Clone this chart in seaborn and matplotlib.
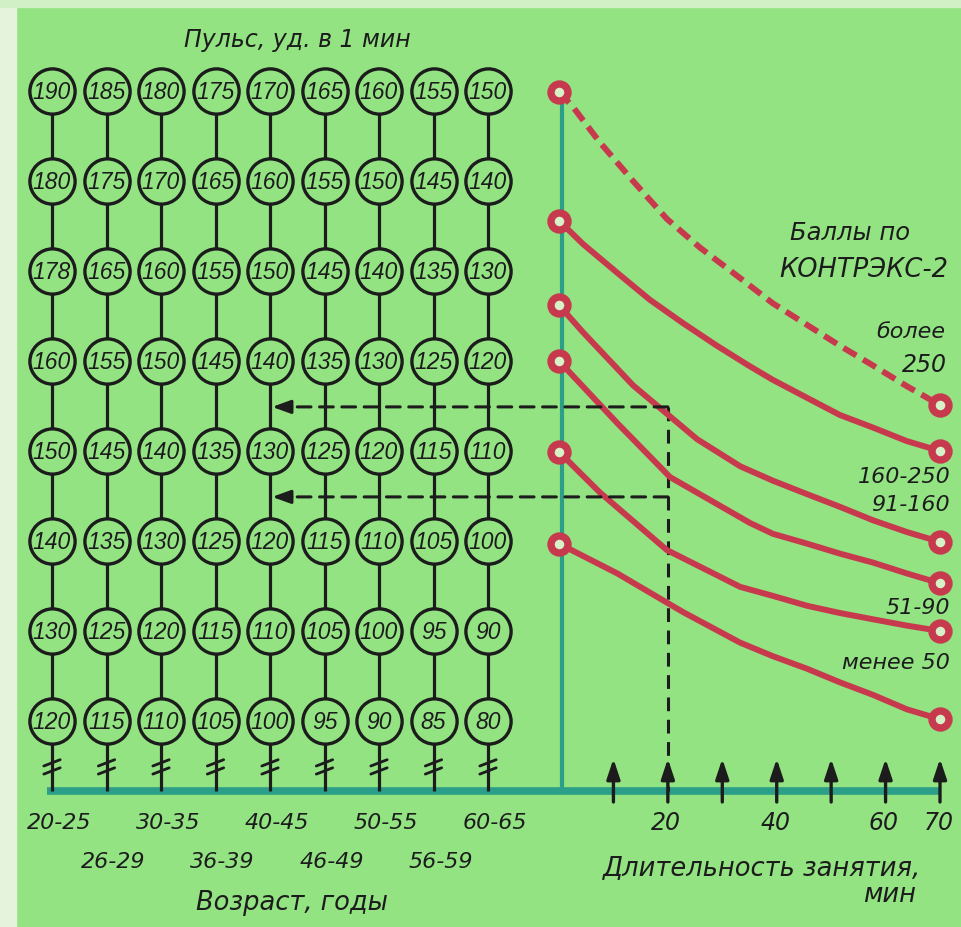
import numpy as np
import pandas as pd
import matplotlib
matplotlib.use("Agg")
import matplotlib.pyplot as plt
import seaborn as sns
from matplotlib.patches import ConnectionPatch, Rectangle

# ---------------- data ----------------
age_groups = ["20-25", "26-29", "30-35", "36-39", "40-45", "46-49", "50-55", "56-59", "60-65"]
pulse_rows = [
    [190, 185, 180, 175, 170, 165, 160, 155, 150],
    [180, 175, 170, 165, 160, 155, 150, 145, 140],
    [178, 165, 160, 155, 150, 145, 140, 135, 130],
    [160, 155, 150, 145, 140, 135, 130, 125, 120],
    [150, 145, 140, 135, 130, 125, 120, 115, 110],
    [140, 135, 130, 125, 120, 115, 110, 105, 100],
    [130, 125, 120, 115, 110, 105, 100, 95, 90],
    [120, 115, 110, 105, 100, 95, 90, 85, 80],
]
time_ticks = [10, 20, 30, 40, 50, 60, 70]
time_labels = {20: "20", 40: "40", 60: "60", 70: "70"}

# curves: duration (min) vs level (row position on the pulse scale)
curve_more250_min = [0, 2.6, 7.5, 13.6, 19.8, 25.9, 33.3, 39.3, 45.6, 51.6, 57.7, 63.9, 70]
curve_more250_lvl = [0.01, 0.18, 0.57, 1.0, 1.42, 1.74, 2.08, 2.36, 2.6, 2.83, 3.05, 3.28, 3.49]
curve_160_250_min = [0, 4.4, 10.7, 16.7, 22.8, 29.0, 35.1, 39.3, 45.6, 51.6, 57.7, 63.9, 70]
curve_160_250_lvl = [1.44, 1.70, 2.02, 2.32, 2.58, 2.83, 3.06, 3.21, 3.41, 3.60, 3.74, 3.89, 4.0]
curve_91_160_min = [0, 4.4, 13.6, 25.4, 33.3, 39.3, 45.6, 51.6, 57.7, 63.9, 70]
curve_91_160_lvl = [2.38, 2.68, 3.27, 3.87, 4.17, 4.33, 4.48, 4.62, 4.77, 4.90, 5.01]
curve_51_90a_min = [0, 10.7, 20.4, 35.1, 39.3, 45.6, 51.6, 57.7, 63.9, 70]
curve_51_90a_lvl = [3.0, 3.69, 4.29, 4.80, 4.92, 5.03, 5.14, 5.24, 5.36, 5.47]
curve_51_90b_min = [0, 7.5, 19.8, 33.3, 39.3, 45.6, 51.6, 57.7, 63.9, 70]
curve_51_90b_lvl = [4.01, 4.46, 5.10, 5.51, 5.61, 5.72, 5.80, 5.87, 5.94, 6.0]
curve_less50_min = [0, 10.7, 22.8, 33.3, 39.3, 45.6, 51.6, 57.7, 63.9, 70]
curve_less50_lvl = [5.03, 5.36, 5.79, 6.13, 6.28, 6.42, 6.57, 6.71, 6.87, 6.98]

example_minutes = 20
example_levels = [3.51, 4.51]
example_age_index = 4

# ---------------- style ----------------
BG = "#93e383"
RED = "#c73a4e"
TEAL = "#2c9f88"
INK = "#1c1c1c"

sns.set_theme(style="white")
plt.rcParams["font.family"] = ["DejaVu Sans"]

W, H = 962, 928
fig = plt.figure(figsize=(W / 100, H / 100), dpi=100, facecolor=BG)
fig.patches.append(Rectangle((0, 0), 16 / W, 1, transform=fig.transFigure,
                             color="#e6f3dc", zorder=0))
fig.patches.append(Rectangle((0, 1 - 8 / H), 1, 8 / H, transform=fig.transFigure,
                             color="#d2f0c6", zorder=0))

# scales: level -> y px = 92 + 90*level ; column -> x px = 52 + 54.5*col ;
# minute -> x px = 559 + 5.443*m
split = 540
ax1 = fig.add_axes([0, 0, split / W, 1])
ax2 = fig.add_axes([split / W, 0, (W - split) / W, 1])
ylim = ((H - 92) / 90, -92 / 90)
ax1.set_xlim(-52 / 54.5, (split - 52) / 54.5)
ax2.set_xlim((split - 559) / 5.443, (W - 559) / 5.443)
for a in (ax1, ax2):
    a.set_ylim(*ylim)
    a.set_autoscale_on(False)
    a.set_facecolor("none")
    a.axis("off")

axis_level = 7.78

# ---------------- left: pulse grid ----------------
n_rows, n_cols = len(pulse_rows), len(age_groups)
grid = pd.DataFrame([(c, r, pulse_rows[r][c]) for r in range(n_rows) for c in range(n_cols)],
                    columns=["col", "level", "pulse"])

for c in range(n_cols):
    ax1.plot([c, c], [0, axis_level], color=INK, lw=2.3, zorder=1, solid_capstyle="butt")
    for dl in (-0.045, 0.045):
        ax1.plot([c - 0.15, c + 0.15], [7.51 + dl + 0.035, 7.51 + dl - 0.035],
                 color=INK, lw=2.0, zorder=2)

sns.scatterplot(data=grid, x="col", y="level", ax=ax1, s=1060, marker="o",
                facecolor=BG, edgecolor=INK, linewidth=2.4, zorder=3, legend=False)

num_fam = ["Liberation Sans Narrow", "Liberation Sans"]
for _, row in grid.iterrows():
    ax1.text(row["col"], row["level"] + 0.01, str(row["pulse"]), ha="center", va="center",
             family=num_fam, style="italic", fontsize=16.5, color=INK, zorder=4)

ax1.plot([-0.1, ax1.get_xlim()[1]], [axis_level, axis_level], color=TEAL, lw=5.5,
         solid_capstyle="butt", zorder=0.5)

lab_kw = dict(style="italic", color=INK, fontsize=16, ha="center", va="center")
for i, g in enumerate(age_groups):
    ax1.text(i + 0.13, 8.12 if i % 2 == 0 else 8.56, g, **lab_kw)
ax1.text(4.4, 9.01, "Возраст, годы", **{**lab_kw, "fontsize": 18.5})
ax1.text(4.5, -0.58, "Пульс, уд. в 1 мин", **{**lab_kw, "fontsize": 17})

# ---------------- right: duration curves ----------------
ax2.plot([0.5, 0.5], [0.1, axis_level], color=TEAL, lw=3.0, zorder=0.5)
ax2.plot([ax2.get_xlim()[0], 70], [axis_level, axis_level], color=TEAL, lw=5.5,
         solid_capstyle="butt", zorder=0.5)

curves = [
    ("более 250", curve_more250_min, curve_more250_lvl, "dashed"),
    ("160-250", curve_160_250_min, curve_160_250_lvl, "solid"),
    ("91-160", curve_91_160_min, curve_91_160_lvl, "solid"),
    ("51-90 a", curve_51_90a_min, curve_51_90a_lvl, "solid"),
    ("51-90 b", curve_51_90b_min, curve_51_90b_lvl, "solid"),
    ("менее 50", curve_less50_min, curve_less50_lvl, "solid"),
]
cdf = pd.concat([pd.DataFrame({"band": n, "minutes": m, "level": l, "kind": k})
                 for n, m, l, k in curves], ignore_index=True)
sns.lineplot(data=cdf, x="minutes", y="level", units="band", estimator=None, sort=False,
             style="kind", dashes={"dashed": (2.5, 1.3), "solid": ""},
             color=RED, lw=4.3, ax=ax2, legend=False, zorder=2)
for ln in ax2.get_lines()[-len(curves):]:
    ln.set_dash_capstyle("butt")
    ln.set_solid_joinstyle("round")
ends = cdf.groupby("band", sort=False).agg(
    m0=("minutes", "first"), l0=("level", "first"),
    m1=("minutes", "last"), l1=("level", "last")).reset_index()
ends_long = pd.concat([ends[["m0", "l0"]].set_axis(["minutes", "level"], axis=1),
                       ends[["m1", "l1"]].set_axis(["minutes", "level"], axis=1)])
sns.scatterplot(data=ends_long, x="minutes", y="level", ax=ax2, s=150, marker="o",
                facecolor="#d6f0c8", edgecolor=RED, linewidth=5.3, zorder=3, legend=False)

# example reading lines
dash = (0, (4.5, 2.8))
ax2.plot([example_minutes, example_minutes], [example_levels[0], axis_level],
         color=INK, lw=2.2, linestyle=dash, zorder=1)
for lvl in example_levels:
    con = ConnectionPatch(xyA=(example_minutes, lvl), coordsA=ax2.transData,
                          xyB=(example_age_index + 0.25, lvl), coordsB=ax1.transData,
                          color=INK, lw=2.2, linestyle=dash, zorder=1)
    fig.add_artist(con)
    ax1.annotate("", xy=(example_age_index + 0.04, lvl), xytext=(example_age_index + 0.4, lvl),
                 arrowprops=dict(arrowstyle="-|>,head_length=0.55,head_width=0.2",
                                 color=INK, lw=2.2, mutation_scale=20,
                                 shrinkA=0, shrinkB=0), zorder=2)

# time axis arrows and labels
for t in time_ticks:
    ax2.annotate("", xy=(t, 7.42), xytext=(t, 7.90),
                 arrowprops=dict(arrowstyle="-|>,head_length=0.6,head_width=0.2",
                                 color=INK, lw=2.4, mutation_scale=20,
                                 shrinkA=0, shrinkB=0), zorder=3)
for t, s in time_labels.items():
    ax2.text(t - 0.3, 8.12, s, **{**lab_kw, "fontsize": 17})

ax2.text(37.3, 8.62, "Длительность занятия,", **{**lab_kw, "fontsize": 18.5})
ax2.text(65.6, 8.92, "мин", **{**lab_kw, "ha": "right", "fontsize": 18.5})

ax2.text(53.5, 1.57, "Баллы по", **{**lab_kw, "fontsize": 17.5})
ax2.text(56.0, 1.98, "КОНТРЭКС-2", **{**lab_kw, "fontsize": 18.5})
rk = {**lab_kw, "ha": "right"}
ax2.text(71.0, 2.67, "более", **rk)
ax2.text(71.3, 3.03, "250", **{**rk, "fontsize": 17})
ax2.text(72.0, 4.28, "160-250", **rk)
ax2.text(71.8, 4.59, "91-160", **rk)
ax2.text(71.8, 5.73, "51-90", **rk)
ax2.text(71.8, 6.34, "менее 50", **rk)

fig.savefig("out.png", dpi=100, facecolor=BG)
